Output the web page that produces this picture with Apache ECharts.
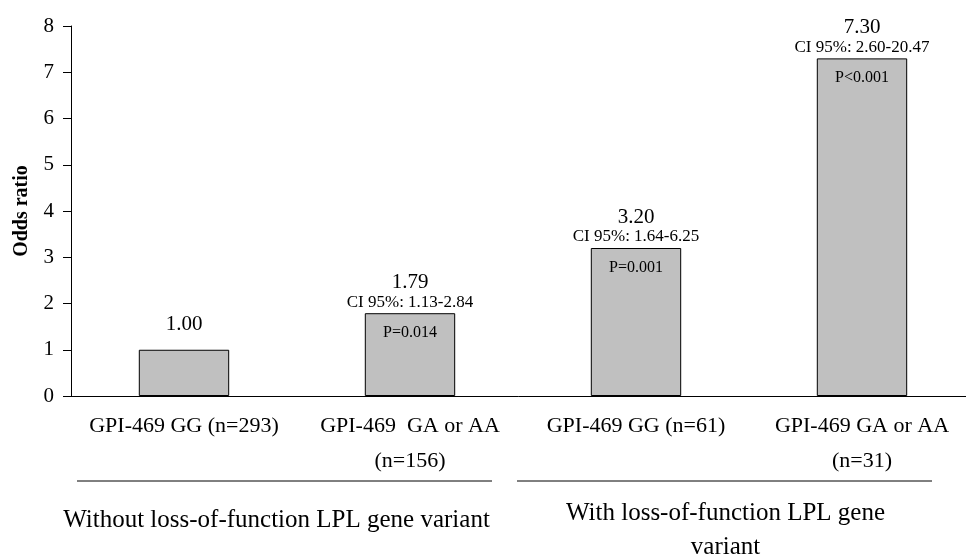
<!DOCTYPE html>
<html lang="en">
<head>
    <meta charset="UTF-8">
    <script src="https://cdn.jsdelivr.net/npm/echarts@6/dist/echarts.min.js"></script>
    <title>Odds ratio</title>
</head>
<body style="margin:0;background:#fff;overflow:hidden;">
    <div id="odds-bar" style="width: 966px;height:557px;"></div>
</body>
<script type="text/javascript">
    // data
    var categories = ['GPI-469 GG (n=293)', 'GPI-469  GA or AA\n(n=156)', 'GPI-469 GG (n=61)', 'GPI-469 GA or AA\n(n=31)'];
    var oddsRatios = [1.00, 1.79, 3.20, 7.30];
    var ciTexts = ['', 'CI 95%: 1.13-2.84', 'CI 95%: 1.64-6.25', 'CI 95%: 2.60-20.47'];
    var pTexts = ['', 'P=0.014', 'P=0.001', 'P<0.001'];
    var groupNames = ['Without loss-of-function LPL gene variant', 'With loss-of-function LPL gene\nvariant'];
    var groupRanges = [[0, 1], [2, 3]];
    var yTicks = [0, 1, 2, 3, 4, 5, 6, 7, 8];

    var serif = '"Liberation Serif", "Times New Roman", serif';
    var oddsBar = echarts.init(document.getElementById('odds-bar'));

    oddsBar.setOption({
        animation: false,
        // plot runs a little past the right edge of the picture
        grid: {left: 71, top: 26, bottom: 161, right: -9, outerBoundsMode: 'none', containLabel: false},
        xAxis: {
            type: 'category',
            data: categories,
            axisLine: {lineStyle: {color: '#000', width: 1}},
            axisTick: {length: 7, lineStyle: {color: '#000'}},
            axisLabel: {
                interval: 0,
                color: '#000',
                fontFamily: serif,
                fontSize: 22,
                lineHeight: 35,
                margin: 13
            }
        },
        yAxis: {
            type: 'value',
            min: yTicks[0],
            max: yTicks[yTicks.length - 1],
            interval: 1,
            name: 'Odds ratio',
            nameLocation: 'middle',
            nameRotate: 90,
            nameGap: 39,
            nameTextStyle: {color: '#000', fontFamily: serif, fontSize: 20, fontWeight: 'bold'},
            axisLine: {show: true, lineStyle: {color: '#000', width: 1}},
            axisTick: {show: true, length: 8, lineStyle: {color: '#000'}},
            axisLabel: {color: '#000', fontFamily: serif, fontSize: 21, margin: 17},
            splitLine: {show: false}
        },
        series: [{
            type: 'bar',
            name: 'Odds ratio',
            data: oddsRatios.map(function (v, i) {
                return {
                    value: v,
                    label: ciTexts[i] ? {} : {distance: 14}
                };
            }),
            barWidth: '40%',
            itemStyle: {color: '#c0c0c0', borderColor: '#000', borderWidth: 1},
            label: {
                show: true,
                position: 'top',
                distance: 2,
                formatter: function (p) {
                    var s = '{v|' + p.value.toFixed(2) + '}';
                    if (ciTexts[p.dataIndex]) s += '\n{c|' + ciTexts[p.dataIndex] + '}';
                    return s;
                },
                rich: {
                    v: {fontFamily: serif, fontSize: 21, lineHeight: 22, color: '#000'},
                    c: {fontFamily: serif, fontSize: 17, lineHeight: 18, color: '#000'}
                }
            }
        }, {
            // invisible copy, only used to print P values inside the bars
            type: 'bar',
            name: 'P',
            data: oddsRatios,
            barWidth: '40%',
            barGap: '-100%',
            silent: true,
            itemStyle: {color: 'rgba(0,0,0,0)'},
            label: {
                show: true,
                position: 'insideTop',
                distance: 11,
                fontFamily: serif,
                fontSize: 16,
                lineHeight: 17,
                color: '#000',
                formatter: function (p) { return pTexts[p.dataIndex]; }
            }
        }]
    });

    // group brackets under the category labels
    var band = oddsBar.convertToPixel({xAxisIndex: 0}, 1) - oddsBar.convertToPixel({xAxisIndex: 0}, 0);
    var baseY = oddsBar.convertToPixel({yAxisIndex: 0}, 0);
    var insets = [[6, 31], [-6, 43]];
    var textShift = [-8, 1];
    var textTop = [107, 100];
    var graphics = [];
    groupRanges.forEach(function (r, g) {
        var x1 = oddsBar.convertToPixel({xAxisIndex: 0}, r[0]) - band / 2 + insets[g][0];
        var x2 = oddsBar.convertToPixel({xAxisIndex: 0}, r[1]) + band / 2 - insets[g][1];
        graphics.push({
            type: 'line',
            shape: {x1: x1, y1: baseY + 85, x2: x2, y2: baseY + 85},
            style: {stroke: '#000', lineWidth: 1}
        });
        graphics.push({
            type: 'text',
            style: {
                text: groupNames[g],
                x: (x1 + x2) / 2 + textShift[g],
                y: baseY + textTop[g],
                textAlign: 'center',
                textVerticalAlign: 'top',
                font: '25px ' + serif,
                lineHeight: 34,
                fill: '#000'
            }
        });
    });
    oddsBar.setOption({graphic: graphics});
</script>
</html>
